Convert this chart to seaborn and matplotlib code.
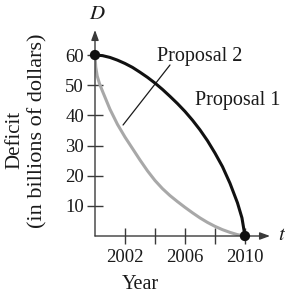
#!/usr/bin/env python3

import matplotlib

matplotlib.use("Agg")
import matplotlib.pyplot as plt
import pandas as pd
import seaborn as sns

# years after 2000 and deficit in billions
p1_t = [0, 0.5, 1, 1.5, 2, 2.5, 3, 3.5, 4, 4.5, 5, 5.5, 6, 6.5, 7, 7.5,
        8, 8.5, 9, 9.5, 9.8, 10]
p1_d = [60, 59.8, 59.2, 58.3, 57.2, 55.9, 54.3, 52.6, 50.7, 48.6, 46.3, 43.9,
        41.3, 38.4, 35.2, 31.6, 27.5, 23, 17.5, 11, 6, 0]

p2_t = [0, 0.05, 0.15, 0.3, 0.5, 1, 1.5, 2, 2.5, 3, 3.5, 4, 4.5, 5, 5.5, 6,
        6.5, 7, 7.5, 8, 8.5, 9, 9.5, 10]
p2_d = [60, 56, 53, 50.5, 48, 42, 37, 32.8, 29, 25.2, 21.6, 18.4, 15.7, 13.4,
        11.4, 9.5, 7.7, 6, 4.5, 3.2, 2.1, 1.2, 0.45, 0]

end_t = [0, 10]
end_d = [60, 0]

x_ticks = [2002, 2006, 2010]
x_minor = [2004, 2008]
y_ticks = [10, 20, 30, 40, 50, 60]

BASE = 2000


def main():
    sns.set_style("ticks")
    plt.rcParams["font.family"] = ["Liberation Serif", "DejaVu Serif"]
    plt.rcParams["mathtext.fontset"] = "stix"

    df1 = pd.DataFrame({"year": [BASE + t for t in p1_t], "deficit": p1_d})
    df2 = pd.DataFrame({"year": [BASE + t for t in p2_t], "deficit": p2_d})
    ends = pd.DataFrame({"year": [BASE + t for t in end_t], "deficit": end_d})

    fig = plt.figure(figsize=(2.85, 2.96), dpi=100)
    ax = fig.add_axes([95 / 285, 60 / 296, 175 / 285, 206 / 296])

    axis_col = "#3a3a3a"
    txt_col = "#1a1a1a"
    sns.lineplot(data=df2, x="year", y="deficit", color="#a8a8a8", lw=2.2,
                 ax=ax, sort=False, zorder=3)
    sns.lineplot(data=df1, x="year", y="deficit", color="#111111", lw=2.2,
                 ax=ax, sort=False, zorder=4)
    sns.scatterplot(data=ends, x="year", y="deficit", color="#111111", s=55,
                    edgecolor="none", ax=ax, zorder=5, clip_on=False)

    ax.set_xlim(BASE, BASE + 11.67)
    ax.set_ylim(0, 68.3)

    for s in ax.spines.values():
        s.set_visible(False)
    head = "-|>,head_length=0.6,head_width=0.22"
    ax.annotate("", xy=(1.0, 0), xytext=(0, 0), xycoords="axes fraction",
                arrowprops=dict(arrowstyle=head, color=axis_col, lw=1.0,
                                shrinkA=0, shrinkB=0))
    ax.annotate("", xy=(0, 1.0), xytext=(0, 0), xycoords="axes fraction",
                arrowprops=dict(arrowstyle=head, color=axis_col, lw=1.0,
                                shrinkA=0, shrinkB=0))

    ax.set_xticks(x_ticks)
    ax.set_xticks(x_minor, minor=True)
    ax.set_xticklabels([str(v) for v in x_ticks])
    ax.set_yticks(y_ticks)
    ax.set_yticklabels([str(v) for v in y_ticks])
    ax.tick_params(which="both", direction="inout", length=12, width=1.0,
                   color=axis_col, labelsize=13.5, labelcolor=txt_col)
    ax.tick_params(axis="x", pad=3)
    ax.tick_params(axis="y", pad=2)

    ax.set_xlabel("Year", fontsize=14.5, color=txt_col)
    ax.set_ylabel("")
    ax.xaxis.set_label_coords((140 - 95) / 175, (236 - 275) / 206)

    fig.text(15 / 285, 1 - 140 / 296, "Deficit", rotation=90, ha="center",
             va="center", fontsize=15, color=txt_col)
    fig.text(38 / 285, 1 - 131 / 296, "(in billions of dollars)", rotation=90,
             ha="center", va="center", fontsize=16, color=txt_col)

    # leader from the label down to the grey curve
    ax.annotate("", xy=(BASE + 1.87, 36.8), xytext=(BASE + 5.0, 56.7),
                arrowprops=dict(arrowstyle="-", color=txt_col, lw=0.9,
                                shrinkA=0, shrinkB=0))
    ax.text(BASE + 7.0, 59.5, "Proposal 2", ha="center", va="center",
            fontsize=14.5, color=txt_col)
    ax.text(BASE + 9.5, 45.0, "Proposal 1", ha="center", va="center",
            fontsize=14.5, color=txt_col)

    ax.text(BASE + 12.47, 0, "$t$", ha="center", va="center", fontsize=15,
            color=txt_col, clip_on=False)
    ax.text(BASE + 0.13, 73.3, "$D$", ha="center", va="center", fontsize=15,
            color=txt_col, clip_on=False)

    fig.savefig("out.png", dpi=100)


if __name__ == "__main__":
    main()
